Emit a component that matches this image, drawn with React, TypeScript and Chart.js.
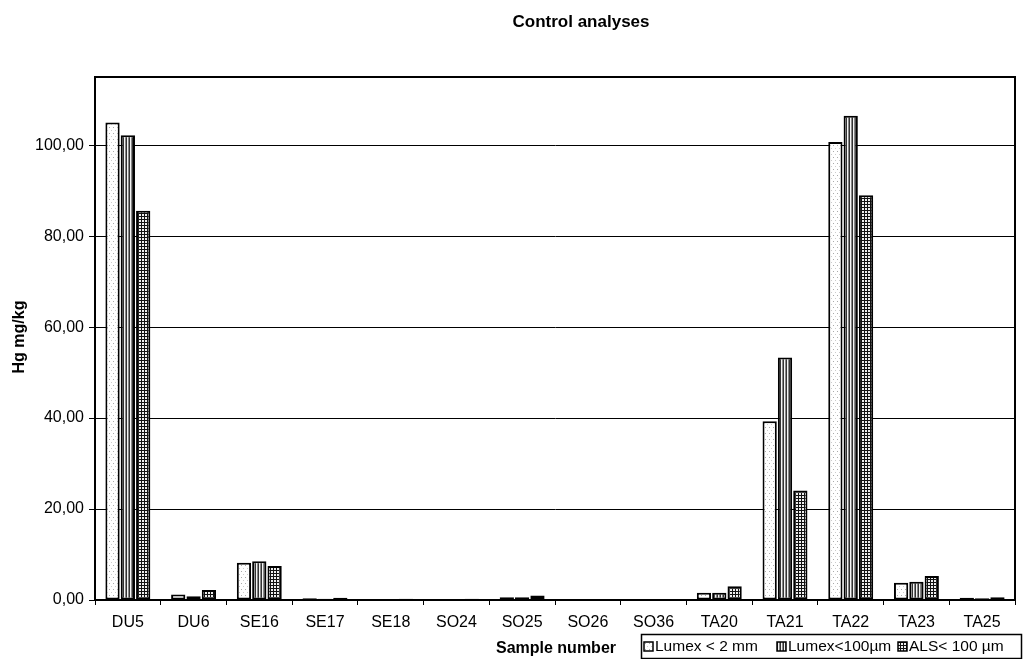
import React, { useEffect, useRef } from "react";
import { Chart, registerables } from "chart.js";

Chart.register(...registerables);

const sampleLabels = ["DU5", "DU6", "SE16", "SE17", "SE18", "SO24", "SO25", "SO26", "SO36", "TA20", "TA21", "TA22", "TA23", "TA25"];
const lumex2mm = [105.0, 1.2, 8.2, 0.4, 0.2, 0.1, 0.6, 0.2, 0.05, 1.6, 39.3, 100.7, 3.8, 0.5];
const lumex100 = [102.2, 0.8, 8.5, 0.3, 0.1, 0.1, 0.6, 0.2, 0.05, 1.6, 53.3, 106.5, 4.0, 0.4];
const als100 = [85.6, 2.2, 7.5, 0.5, 0.3, 0.3, 1.0, 0.1, 0.1, 3.0, 24.1, 89.0, 5.3, 0.6];
const seriesNames = ["Lumex < 2 mm", "Lumex<100µm", "ALS< 100 µm"];
const yTicks = [0, 20, 40, 60, 80, 100];

const FONT = "'Liberation Sans', Arial, sans-serif";

function makePattern(kind: number): CanvasPattern | string {
  const c = document.createElement("canvas");
  const ctx = c.getContext("2d")!;
  if (kind === 0) {
    c.width = 4; c.height = 6;
    ctx.fillStyle = "#ffffff"; ctx.fillRect(0, 0, 4, 6);
    ctx.fillStyle = "#aaaaaa"; ctx.fillRect(1, 1, 1, 1);
    ctx.fillStyle = "#cccccc"; ctx.fillRect(3, 4, 1, 1);
  } else if (kind === 1) {
    c.width = 3; c.height = 2;
    ctx.fillStyle = "#f4f4f4"; ctx.fillRect(0, 0, 3, 2);
    ctx.fillStyle = "#333333"; ctx.fillRect(0, 0, 1, 2);
    ctx.fillStyle = "#888888"; ctx.fillRect(2, 0, 1, 2);
  } else {
    c.width = 3; c.height = 3;
    ctx.fillStyle = "#eeeeee"; ctx.fillRect(0, 0, 3, 3);
    ctx.fillStyle = "#111111"; ctx.fillRect(0, 0, 3, 1); ctx.fillRect(0, 0, 1, 3);
  }
  const p = ctx.createPattern(c, "repeat");
  return p || "#888";
}

export default function App() {
  const ref = useRef<HTMLCanvasElement>(null);
  useEffect(() => {
    const canvas = ref.current!;
    const patterns = [makePattern(0), makePattern(1), makePattern(2)];
    const values = [lumex2mm, lumex100, als100];

    const decor = {
      id: "decor",
      afterDraw(chart: any) {
        const ctx = chart.ctx;
        const a = chart.chartArea;
        ctx.save();
        ctx.strokeStyle = "#000";
        ctx.lineWidth = 2;
        ctx.strokeRect(a.left, a.top, a.right - a.left, a.bottom - a.top);
        ctx.fillStyle = "#000";
        ctx.textAlign = "center";
        ctx.textBaseline = "middle";
        ctx.font = `bold 17px ${FONT}`;
        ctx.fillText("Control analyses", 581, 22);
        ctx.font = `bold 16px ${FONT}`;
        ctx.fillText("Sample number", 556, 649);
        ctx.save();
        ctx.translate(20, 337);
        ctx.rotate(-Math.PI / 2);
        ctx.fillText("Hg mg/kg", 0, 0);
        ctx.restore();
        // legend
        ctx.lineWidth = 1.5;
        ctx.strokeRect(641.5, 634.5, 380, 24);
        ctx.font = `15.5px ${FONT}`;
        ctx.textAlign = "left";
        const xs = [644, 777, 898];
        for (let i = 0; i < 3; i++) {
          ctx.fillStyle = patterns[i] as any;
          ctx.fillRect(xs[i], 642, 9, 9);
          ctx.strokeStyle = "#000";
          ctx.lineWidth = 1.5;
          ctx.strokeRect(xs[i], 642, 9, 9);
          ctx.fillStyle = "#000";
          ctx.fillText(seriesNames[i], xs[i] + 11, 647);
        }
        ctx.restore();
      },
    };

    const chart = new Chart(canvas, {
      type: "bar",
      data: {
        labels: sampleLabels,
        datasets: values.map((v, i) => ({
          label: seriesNames[i],
          data: v,
          backgroundColor: patterns[i] as any,
          borderColor: "#000",
          borderWidth: 2,
          borderSkipped: false,
          barPercentage: 0.93,
          categoryPercentage: 0.7,
        })),
      },
      options: {
        animation: false,
        responsive: false,
        maintainAspectRatio: false,
        layout: { padding: { top: 77, right: 12, left: 0, bottom: 0 } },
        plugins: {
          legend: { display: false },
          tooltip: { enabled: false },
          title: { display: false },
        },
        scales: {
          x: {
            grid: { display: true, offset: true, drawOnChartArea: false, color: "#000", tickLength: 5, lineWidth: 1 },
            border: { display: true, color: "#000", width: 2 },
            ticks: { color: "#000", font: { family: FONT, size: 16 }, padding: 8, maxRotation: 0, autoSkip: false },
            afterFit: (s: any) => { s.height = 59; },
          },
          y: {
            min: 0,
            max: 115,
            grid: { color: "#000", lineWidth: 1, tickLength: 6, drawTicks: true },
            border: { display: true, color: "#000", width: 2 },
            afterBuildTicks: (s: any) => { s.ticks = yTicks.map((v) => ({ value: v })); },
            ticks: {
              color: "#000",
              font: { family: FONT, size: 16 },
              padding: 5,
              callback: (v: any) => Number(v).toFixed(2).replace(".", ","),
            },
            afterFit: (s: any) => { s.width = 95; },
          },
        },
      },
      plugins: [decor],
    });
    return () => chart.destroy();
  }, []);
  return (
    <div style={{ position: "fixed", left: 0, top: 0, width: 1027, height: 659, background: "#fff" }}>
      <canvas ref={ref} width={1027} height={659} style={{ width: 1027, height: 659 }} />
    </div>
  );
}
